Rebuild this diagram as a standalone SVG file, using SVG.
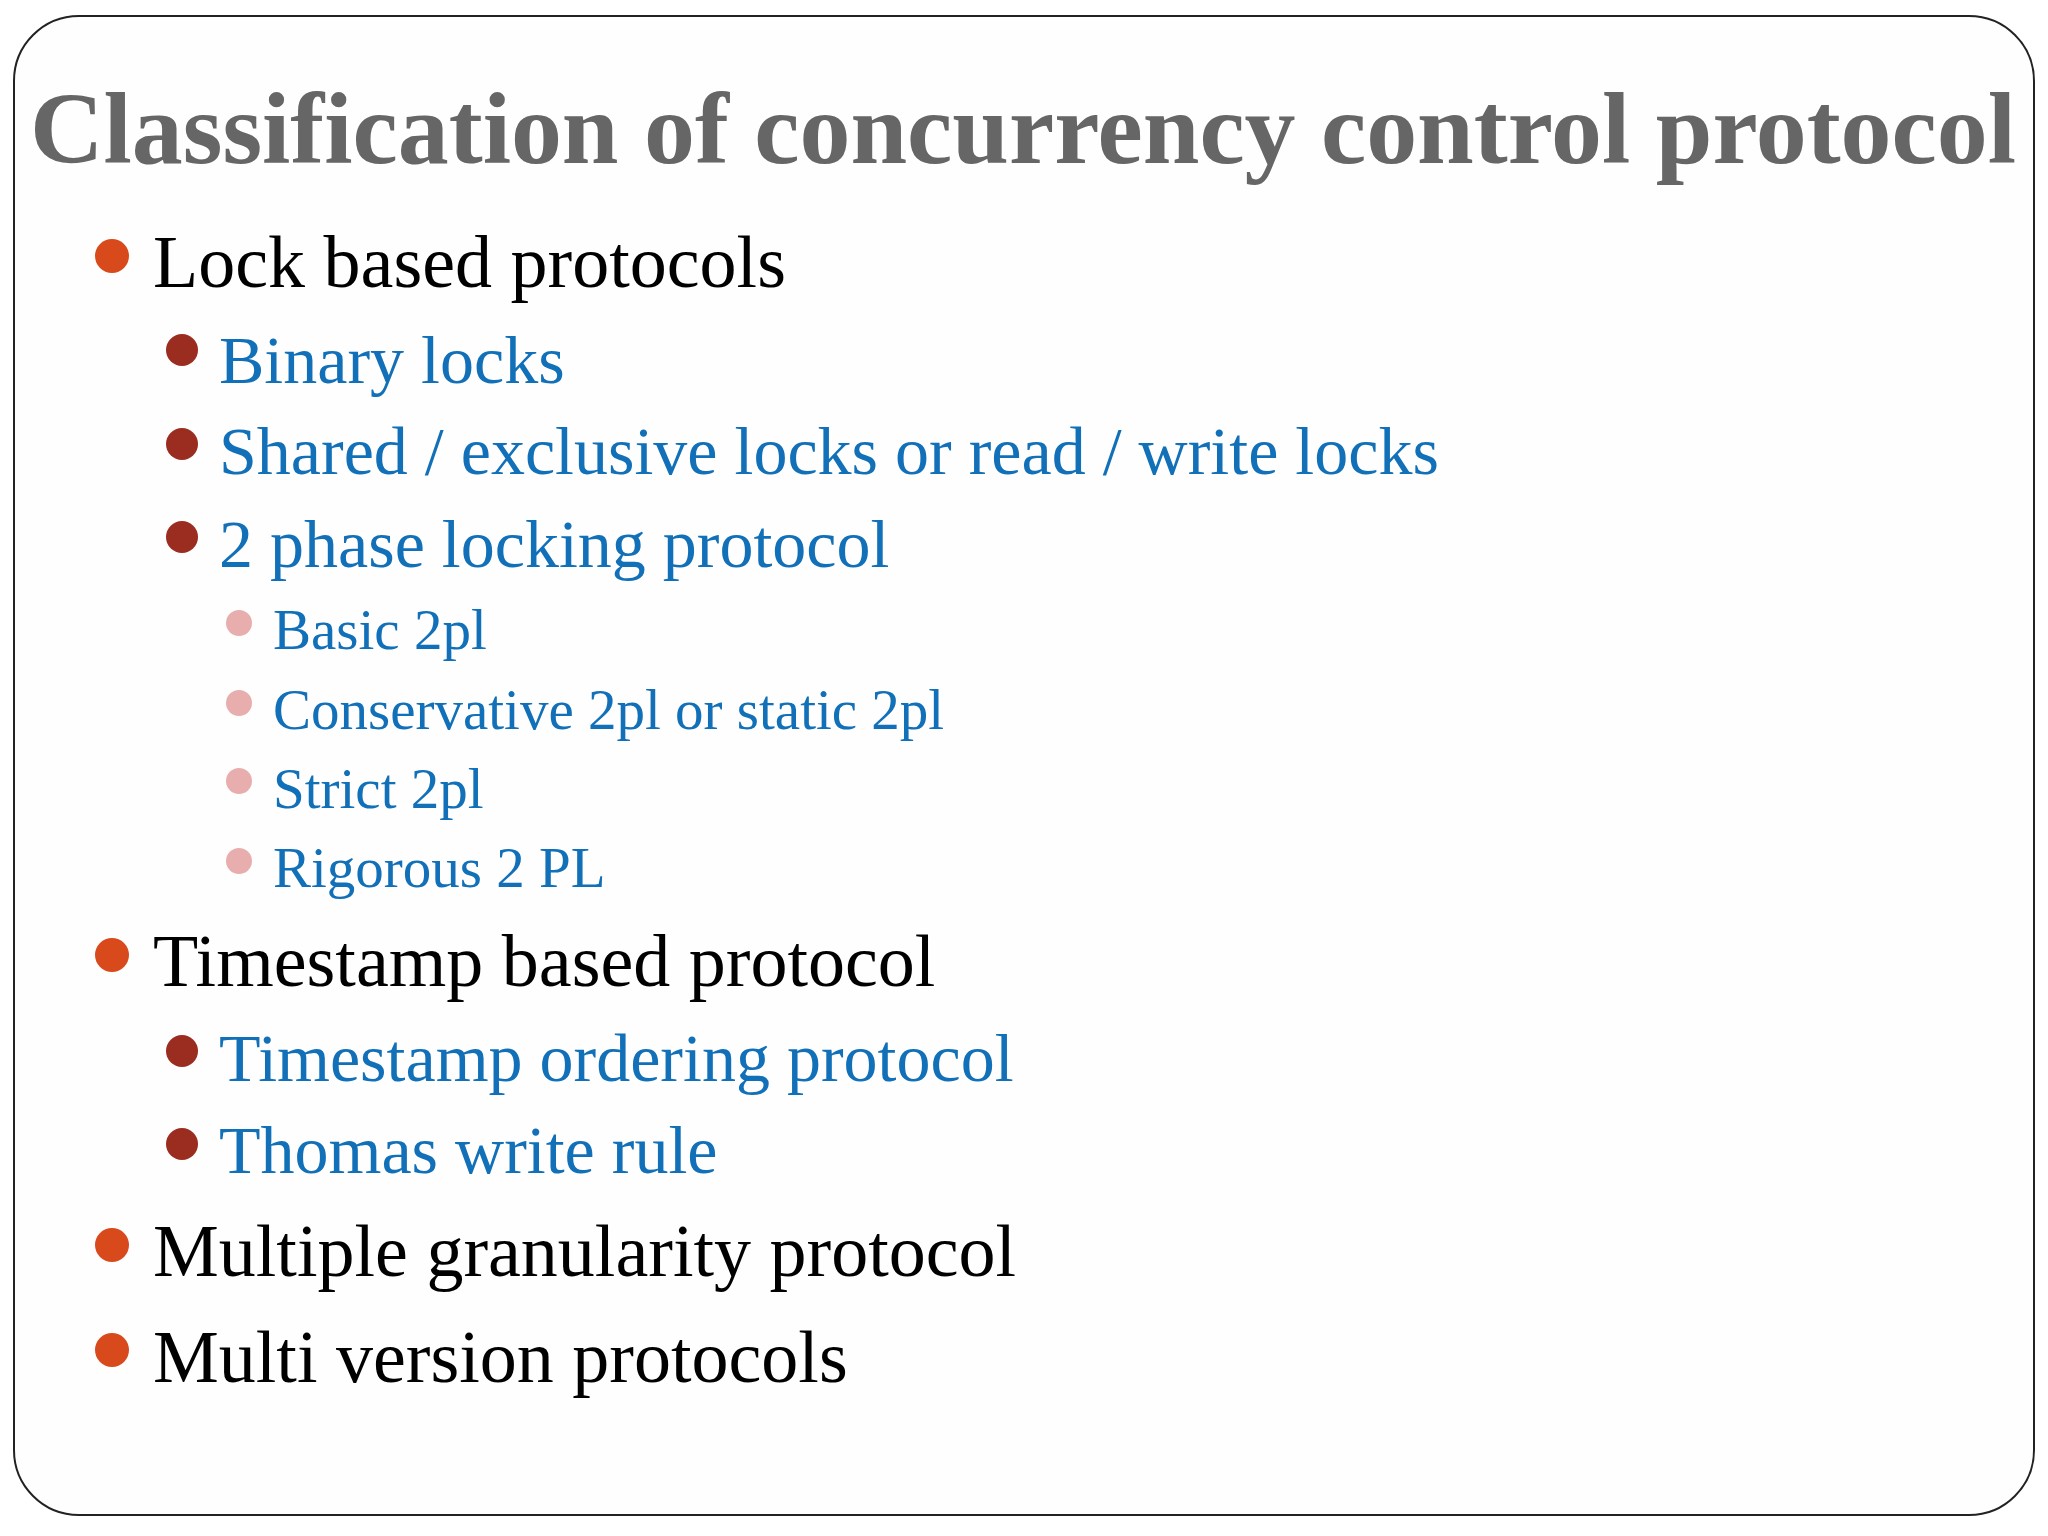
<svg xmlns="http://www.w3.org/2000/svg" width="2048" height="1536" viewBox="0 0 2048 1536">
<style>
text{font-family:"Liberation Serif","Times New Roman",serif}
.t{font-size:102px;font-weight:bold;fill:#666666}
.l1{font-size:74px;fill:#000}
.l2{font-size:68px;fill:#1170B8}
.l3{font-size:57px;fill:#1170B8}
.b1{fill:#D84A1B}.b2{fill:#9B2D20}.b3{fill:#E8AEAE}
</style>
<rect x="0" y="0" width="2048" height="1536" fill="#fff"/>
<rect x="14" y="16" width="2020" height="1499" rx="65" fill="#fefefe" stroke="#222" stroke-width="2"/>
<text class="t" x="30" y="163" textLength="1986" lengthAdjust="spacingAndGlyphs">Classification of concurrency control protocol</text>
<g id="n1"><circle class="b1" cx="112" cy="256" r="17"/><text class="l1" x="153" y="287">Lock based protocols</text></g>
<g id="n2"><circle class="b2" cx="182" cy="350" r="16"/><text class="l2" x="219" y="383">Binary locks</text></g>
<g id="n3"><circle class="b2" cx="182" cy="444" r="16"/><text class="l2" x="219" y="474">Shared / exclusive locks or read / write locks</text></g>
<g id="n4"><circle class="b2" cx="182" cy="537" r="16"/><text class="l2" x="219" y="567">2 phase locking protocol</text></g>
<g id="n5"><circle class="b3" cx="239" cy="623" r="13"/><text class="l3" x="273" y="649">Basic 2pl</text></g>
<g id="n6"><circle class="b3" cx="239" cy="703" r="13"/><text class="l3" x="273" y="729">Conservative 2pl or static 2pl</text></g>
<g id="n7"><circle class="b3" cx="239" cy="781" r="13"/><text class="l3" x="273" y="808">Strict 2pl</text></g>
<g id="n8"><circle class="b3" cx="239" cy="861" r="13"/><text class="l3" x="273" y="887">Rigorous 2 PL</text></g>
<g id="n9"><circle class="b1" cx="112" cy="955" r="17"/><text class="l1" x="153" y="986">Timestamp based protocol</text></g>
<g id="n10"><circle class="b2" cx="182" cy="1051" r="16"/><text class="l2" x="219" y="1081">Timestamp ordering protocol</text></g>
<g id="n11"><circle class="b2" cx="182" cy="1144" r="16"/><text class="l2" x="219" y="1173">Thomas write rule</text></g>
<g id="n12"><circle class="b1" cx="112" cy="1245" r="17"/><text class="l1" x="153" y="1276">Multiple granularity protocol</text></g>
<g id="n13"><circle class="b1" cx="112" cy="1350" r="17"/><text class="l1" x="153" y="1382">Multi version protocols</text></g>
<g id="connectors"/>
</svg>
